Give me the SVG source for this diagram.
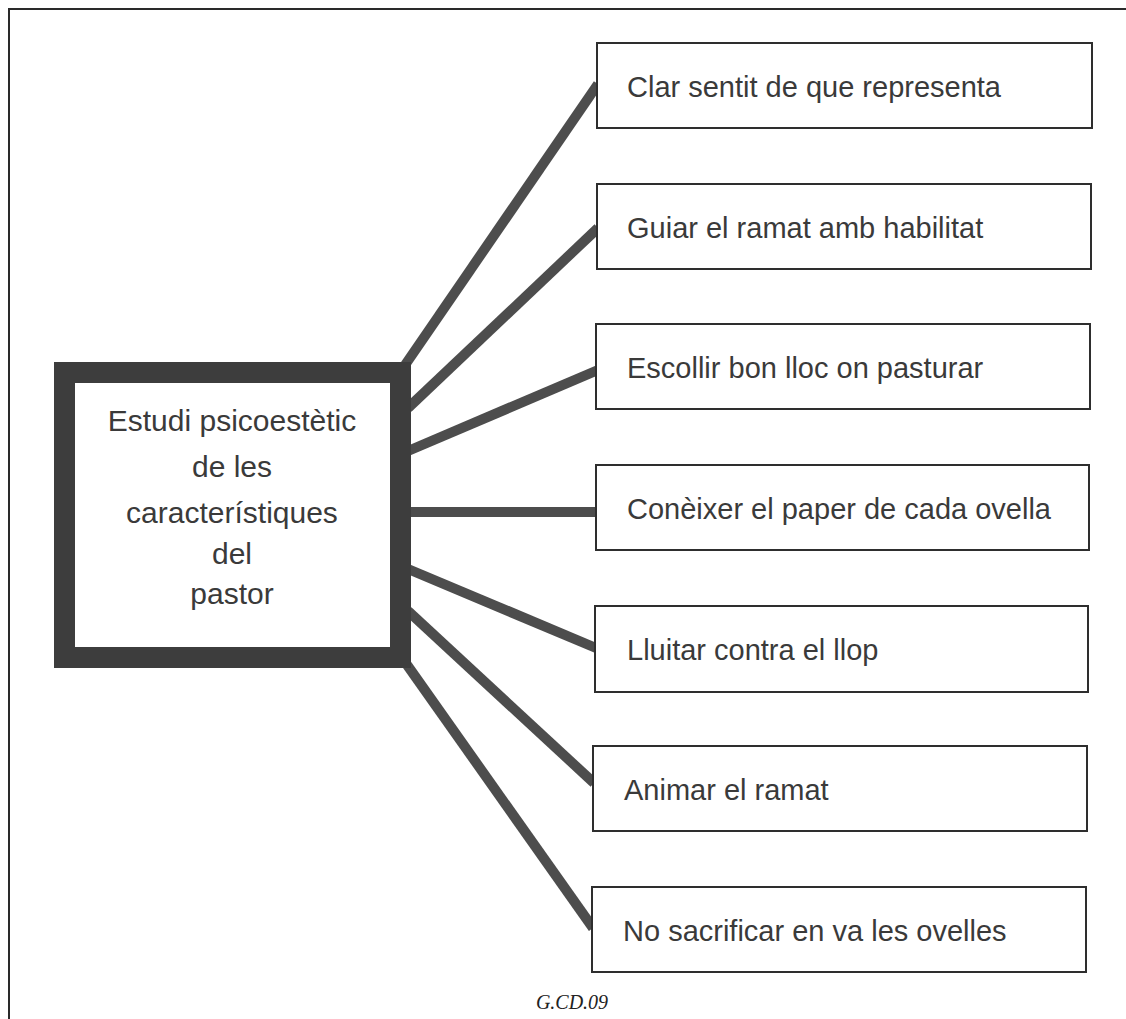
<svg xmlns="http://www.w3.org/2000/svg" width="1126" height="1019" viewBox="0 0 1126 1019">
<style>
.frame{fill:none;stroke:#2a2a2a;stroke-width:2}
.conn{stroke:#4d4d4d;stroke-width:10;stroke-linecap:butt;fill:none}
.box{fill:#fff;stroke:#2e2e2e;stroke-width:2}
.main{fill:#fff;stroke:#3d3d3d;stroke-width:21}
.lbl{font-family:"Liberation Sans",Arial,sans-serif;font-size:29px;fill:#3a3a3a}
.mlbl{font-family:"Liberation Sans",Arial,sans-serif;font-size:30px;fill:#3a3a3a;text-anchor:middle}
.cap{font-family:"Liberation Serif","Times New Roman",serif;font-style:italic;font-size:20px;fill:#222;text-anchor:middle}
</style>
<rect width="1126" height="1019" fill="#fff"/>
<path class="frame" d="M9,1019 V9 H1126"/>
<g id="connectors">
<line class="conn" x1="403" y1="368" x2="598" y2="84"/>
<line class="conn" x1="408" y1="408" x2="598" y2="228"/>
<line class="conn" x1="408" y1="451" x2="598" y2="370"/>
<line class="conn" x1="408" y1="512" x2="597" y2="512"/>
<line class="conn" x1="408" y1="569" x2="596" y2="648"/>
<line class="conn" x1="408" y1="611" x2="594" y2="783"/>
<line class="conn" x1="405" y1="662" x2="593" y2="928"/>
</g>
<g id="center">
<rect class="main" x="64.5" y="372.5" width="336" height="285"/>
<text class="mlbl" x="232" y="431">Estudi psicoestètic</text>
<text class="mlbl" x="232" y="477">de les</text>
<text class="mlbl" x="232" y="523">característiques</text>
<text class="mlbl" x="232" y="564">del</text>
<text class="mlbl" x="232" y="604">pastor</text>
</g>
<g id="n1"><rect class="box" x="597" y="43" width="495" height="85"/><text class="lbl" x="627" y="97">Clar sentit de que representa</text></g>
<g id="n2"><rect class="box" x="597" y="184" width="494" height="85"/><text class="lbl" x="627" y="238">Guiar el ramat amb habilitat</text></g>
<g id="n3"><rect class="box" x="596" y="324" width="494" height="85"/><text class="lbl" x="627" y="378">Escollir bon lloc on pasturar</text></g>
<g id="n4"><rect class="box" x="596" y="465" width="493" height="85"/><text class="lbl" x="627" y="519">Conèixer el paper de cada ovella</text></g>
<g id="n5"><rect class="box" x="595" y="606" width="493" height="86"/><text class="lbl" x="627" y="660">Lluitar contra el llop</text></g>
<g id="n6"><rect class="box" x="593" y="746" width="494" height="85"/><text class="lbl" x="624" y="800">Animar el ramat</text></g>
<g id="n7"><rect class="box" x="592" y="887" width="494" height="85"/><text class="lbl" x="623" y="941">No sacrificar en va les ovelles</text></g>
<text class="cap" x="572" y="1009">G.CD.09</text>
</svg>
